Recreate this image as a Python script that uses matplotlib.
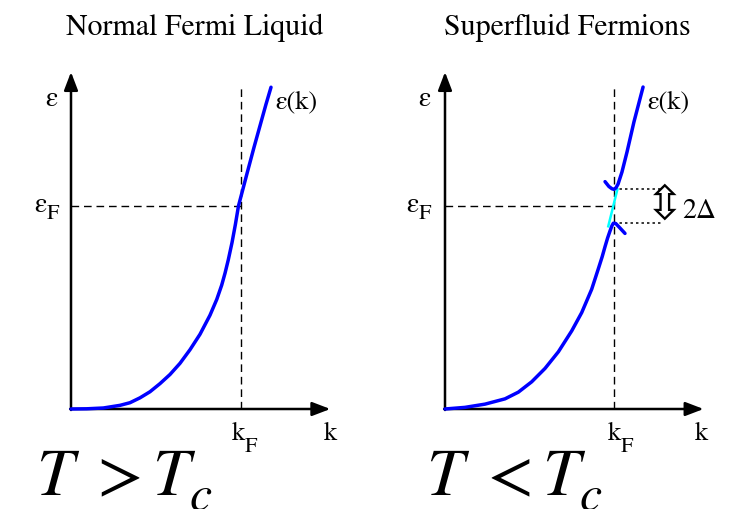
import matplotlib
matplotlib.use("Agg")
import matplotlib.pyplot as plt

plt.rcParams['mathtext.fontset'] = 'stix'
plt.rcParams['font.family'] = ['STIXGeneral', 'DejaVu Sans']

# ---- data (k in units of k_F, energy in units of eps_F) ----
k_F = 1.0
e_F = 1.0

k_normal = [0.0, 0.093, 0.191, 0.289, 0.348, 0.407, 0.466, 0.525, 0.584, 0.643,
            0.702, 0.761, 0.820, 0.860, 0.889, 0.909, 0.928, 0.950, 0.970, 0.988,
            1.040, 1.080, 1.120, 1.150, 1.180]
e_normal = [0.0, 0.001, 0.005, 0.018, 0.031, 0.055, 0.085, 0.125, 0.170, 0.225,
            0.292, 0.368, 0.462, 0.540, 0.610, 0.670, 0.735, 0.820, 0.910, 1.000,
            1.165, 1.290, 1.410, 1.500, 1.585]

k_lower = [0.0, 0.118, 0.237, 0.355, 0.434, 0.513, 0.592, 0.671, 0.750, 0.809,
           0.868, 0.907, 0.930, 0.947, 0.962, 0.976, 0.988, 0.996, 1.010, 1.026, 1.065]
e_lower = [0.0, 0.008, 0.024, 0.050, 0.083, 0.134, 0.200, 0.282, 0.385, 0.475,
           0.590, 0.690, 0.750, 0.800, 0.842, 0.876, 0.903, 0.915, 0.914, 0.900, 0.865]

k_upper = [0.947, 0.970, 0.988, 1.000, 1.012, 1.024, 1.047, 1.077, 1.118, 1.172]
e_upper = [1.120, 1.096, 1.085, 1.082, 1.090, 1.108, 1.167, 1.266, 1.414, 1.586]

k_cyan = [0.966, 1.020]
e_cyan = [0.900, 1.082]

gap_top = 1.082
gap_bottom = 0.915

titles = ["Normal Fermi Liquid", "Superfluid Fermions"]
relations = [">", "<"]

W, H = 736, 509
fig = plt.figure(figsize=(W / 100, H / 100), dpi=100)

def make_axes(rect_px, x0, sx, y0=409, sy=203):
    left, right = rect_px
    ax = fig.add_axes([left / W, 0, (right - left) / W, 1])
    ax.set_xlim((left - x0) / sx, (right - x0) / sx)
    ax.set_ylim(-(H - y0) / sy, y0 / sy)
    ax.axis('off')
    return ax

axL = make_axes((0, 368), 71, 169.5)
axR = make_axes((368, 736), 445, 169.0)

blue = '#0000ff'
cyan = '#00ffff'
dash = dict(color='black', lw=1.0, dashes=(5.5, 3.5))
dot = dict(color='black', lw=1.1, dashes=(1.6, 2.0))

def draw_frame(ax):
    ap = dict(arrowstyle='-|>,head_length=1.1,head_width=0.42', lw=1.8,
              color='black', shrinkA=0, shrinkB=0, mutation_scale=10)
    ax.annotate('', xy=(0, 1.66), xytext=(0, -0.005), arrowprops=ap)
    ax.annotate('', xy=(1.53, 0), xytext=(-0.005, 0), arrowprops=ap)
    ax.plot([k_F, k_F], [0, 1.586], **dash)
    ax.plot([0, k_F], [e_F, e_F], **dash)

for ax in (axL, axR):
    draw_frame(ax)

lk = dict(color=blue, lw=2.5, solid_capstyle='round', solid_joinstyle='round', zorder=5)
axL.plot(k_normal, e_normal, **lk)
axR.plot(k_lower, e_lower, **lk)
axR.plot(k_upper, e_upper, **lk)
axR.plot(k_cyan, e_cyan, color=cyan, lw=1.8, zorder=4)
axR.plot([k_F, 1.29], [gap_top, gap_top], **dot)
axR.plot([k_F, 1.29], [gap_bottom, gap_bottom], **dot)
axR.text(1.302, (gap_top + gap_bottom) / 2, '\u21f3', family='DejaVu Sans',
         fontsize=34, ha='center', va='center')
axR.text(1.402, 0.941, '2Δ', fontsize=20, ha='left', va='baseline')

fs = 19
for ax, xe, xeF, xkF, xk, xek in ((axL, -0.118, -0.215, 0.95, 1.493, 1.204),
                                  (axR, -0.124, -0.232, 0.964, 1.479, 1.195)):
    ax.text(xe, 1.527, 'ε', fontsize=20, ha='center', va='center')
    ax.text(xeF, 0.970, 'ε', fontsize=20, ha='left', va='baseline')
    ax.annotate('F', xy=(xeF, 0.970), xytext=(9, -5), textcoords='offset points',
                fontsize=16, ha='left', va='baseline')
    ax.text(xkF, -0.155, 'k', fontsize=fs, ha='left', va='baseline')
    ax.annotate('F', xy=(xkF, -0.155), xytext=(9, -8), textcoords='offset points',
                fontsize=16, ha='left', va='baseline')
    ax.text(xk, -0.155, 'k', fontsize=fs, ha='left', va='baseline')
    ax.text(xek, 1.483, 'ε(k)', fontsize=fs, ha='left', va='baseline')

fig.text(195 / W, 1 - 35 / H, titles[0], fontsize=21.5, ha='center', va='baseline')
fig.text(567 / W, 1 - 35 / H, titles[1], fontsize=21.5, ha='center', va='baseline')

for x0, rel in ((36, relations[0]), (426, relations[1])):
    fig.text(x0 / W, 1 - 495 / H, r'$T$', fontsize=48, ha='left', va='baseline')
    fig.text((x0 + 52) / W, 1 - 495 / H, r'$%s$' % rel, fontsize=48, ha='left', va='baseline')
    fig.text((x0 + 116) / W, 1 - 495 / H, r'$T$', fontsize=48, ha='left', va='baseline')
    fig.text((x0 + 153) / W, 1 - 510 / H, r'$c$', fontsize=36, ha='left', va='baseline')

fig.savefig('out.png', dpi=100)
